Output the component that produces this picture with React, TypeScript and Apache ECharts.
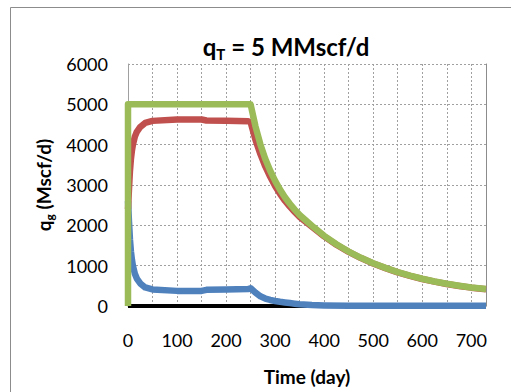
import React, { useEffect, useRef } from "react";
import * as echarts from "echarts";

// Time (day) and gas rate (Mscf/d) for each curve
const totalDays = [0, 0, 250, 260, 270, 280, 290, 300, 310, 320, 330, 340, 350, 375, 400, 425, 450, 475, 500, 525, 550, 575, 600, 625, 650, 675, 700, 730];
const totalRate = [0, 5000, 5000, 4450, 4005, 3645, 3353, 3102, 2885, 2697, 2535, 2390, 2255, 1990, 1740, 1530, 1350, 1195, 1060, 945, 840, 752, 675, 608, 550, 502, 460, 420];

const wellADays = [0, 2, 4, 6, 8, 10, 14, 18, 25, 35, 50, 100, 150, 160, 200, 245, 250, 260, 270, 280, 290, 300, 310, 320, 330, 340, 350, 375, 400, 425, 450, 475, 500, 525, 550, 575, 600, 625, 650, 675, 700, 730];
const wellARate = [2400, 2900, 3350, 3650, 3850, 4000, 4200, 4320, 4440, 4540, 4590, 4625, 4625, 4600, 4590, 4580, 4560, 4120, 3765, 3460, 3203, 2977, 2780, 2609, 2463, 2332, 2210, 1965, 1725, 1520, 1342, 1188, 1055, 940, 835, 747, 670, 603, 545, 497, 455, 415];

const wellBDays = [0, 2, 4, 6, 8, 10, 14, 18, 25, 35, 50, 100, 150, 160, 200, 245, 250, 260, 270, 280, 290, 300, 310, 320, 330, 340, 350, 375, 400, 450, 500, 730];
const wellBRate = [2600, 2100, 1650, 1350, 1150, 1000, 800, 680, 560, 460, 410, 375, 375, 400, 410, 420, 440, 330, 240, 185, 150, 125, 105, 88, 72, 58, 45, 25, 15, 8, 5, 5];

const baseDays = [0, 730];
const baseRate = [0, 0];

const xTicks = [0, 100, 200, 300, 400, 500, 600, 700];

const pairs = (d: number[], v: number[]) => d.map((t, i) => [t, v[i]]);

const FONT = "Lato, 'Open Sans', sans-serif";

export default function App() {
  const ref = useRef<HTMLDivElement>(null);
  useEffect(() => {
    if (!ref.current) return;
    const chart = echarts.init(ref.current, null, { renderer: "svg" });
    const grid = "#a0a0a0";
    chart.setOption({
      animation: false,
      backgroundColor: "#ffffff",
      textStyle: { fontFamily: FONT, color: "#000" },
      graphic: [
        {
          type: "rect",
          shape: { x: 10.5, y: 7.5, width: 600, height: 500 },
          style: { fill: "none", stroke: "#8c8c8c", lineWidth: 1 },
          silent: true,
        },
      ],
      title: {
        text: "{a|q}{s|T}{a| = 5 MMscf/d}",
        left: 281,
        textAlign: "center",
        top: 26,
        textStyle: {
          rich: {
            a: { fontFamily: FONT, fontWeight: "bold", fontSize: 24, lineHeight: 30, color: "#000" },
            s: { fontFamily: FONT, fontWeight: "bold", fontSize: 15, lineHeight: 15, verticalAlign: "bottom", color: "#000" },
          },
        },
      },
      grid: { left: 128, right: 25, top: 64, bottom: 86, containLabel: false },
      xAxis: {
        type: "value",
        min: 0,
        max: 730,
        interval: 50,
        name: "Time (day)",
        nameLocation: "middle",
        nameGap: 61,
        nameTextStyle: { fontFamily: FONT, fontWeight: "bold", fontSize: 19, color: "#000" },
        axisLine: { show: true, lineStyle: { color: grid } },
        axisTick: { show: false },
        axisLabel: {
          margin: 25,
          fontSize: 18,
          fontFamily: FONT,
          color: "#000",
          formatter: (v: number) => (xTicks.includes(v) ? String(v) : ""),
        },
        splitLine: { show: true, lineStyle: { color: grid, type: [2, 2], width: 1 } },
      },
      yAxis: [
        {
          type: "value",
          min: 0,
          max: 6000,
          interval: 1000,
          name: "{a|q}{s|g}{a| (Mscf/d)}",
          nameLocation: "middle",
          nameGap: 64,
          nameRotate: 90,
          nameTextStyle: {
            rich: {
              a: { fontFamily: FONT, fontWeight: "bold", fontSize: 19, lineHeight: 24, color: "#000" },
              s: { fontFamily: FONT, fontWeight: "bold", fontSize: 12, lineHeight: 12, verticalAlign: "bottom", color: "#000" },
            },
          },
          axisLine: { show: true, lineStyle: { color: grid } },
          axisTick: { show: false },
          axisLabel: { margin: 20, fontSize: 18, fontFamily: FONT, color: "#000", formatter: (v: number) => String(v) },
          splitLine: { show: true, lineStyle: { color: grid, type: [2, 2], width: 1 } },
        },
        {
          type: "value",
          position: "right",
          min: 0,
          max: 6000,
          interval: 1000,
          axisLine: { show: true, lineStyle: { color: "#8c8c8c" } },
          axisTick: { show: false },
          axisLabel: { show: false },
          splitLine: { show: false },
        },
      ],
      series: [
        {
          type: "line",
          data: pairs(baseDays, baseRate),
          showSymbol: false,
          lineStyle: { color: "#000000", width: 4 },
          z: 2,
        },
        {
          type: "line",
          data: pairs(wellBDays, wellBRate),
          showSymbol: false,
          lineStyle: { color: "#4F81BD", width: 6.5, join: "round" },
          z: 3,
        },
        {
          type: "line",
          data: pairs(wellADays, wellARate),
          showSymbol: false,
          lineStyle: { color: "#C0504D", width: 6.5, join: "round" },
          z: 4,
        },
        {
          type: "line",
          data: pairs(totalDays, totalRate),
          showSymbol: false,
          lineStyle: { color: "#9BBB59", width: 6.5, join: "round" },
          z: 5,
        },
      ],
    });
    return () => chart.dispose();
  }, []);
  return <div ref={ref} style={{ width: 511, height: 392, position: "absolute", left: 0, top: 0 }} />;
}
